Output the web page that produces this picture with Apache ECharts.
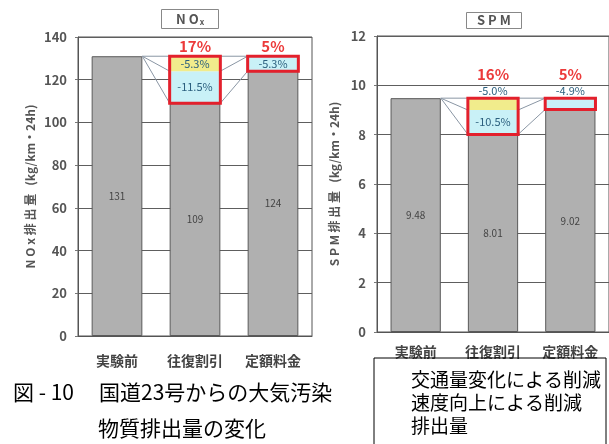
<!DOCTYPE html>
<html>
<head>
<meta charset="utf-8">
<script src="https://cdn.jsdelivr.net/npm/echarts@6/dist/echarts.min.js"></script>
<style>
html, body { margin: 0; padding: 0; background: #fff; }
#chart { width: 609px; height: 444px; }
</style>
</head>
<body>
<div id="chart"></div>
<script>
var categories = ['実験前', '往復割引', '定額料金'];

// NOx 排出量 (kg/km・24h)
var noxBase = [131, 109, 124];
var noxTraffic = [0, 15, 7];
var noxSpeed = [0, 7, 0];
var noxTrafficPct = ['', '-11.5%', '-5.3%'];
var noxSpeedPct = ['', '-5.3%', ''];
var noxTotalPct = ['', '17%', '5%'];
var noxAxis = [0, 140, 20];

// SPM 排出量 (kg/km・24h)
var spmBase = [9.48, 8.01, 9.02];
var spmTraffic = [0, 0.99, 0.46];
var spmSpeed = [0, 0.48, 0];
var spmTrafficPct = ['', '-10.5%', '-4.9%'];
var spmSpeedPct = ['', '-5.0%', ''];
var spmTotalPct = ['', '16%', '5%'];
var spmAxis = [0, 12, 2];

// where the small % labels sit
var noxTrafficPos = ['inside', 'inside', 'inside'];
var noxSpeedPos = ['inside', 'inside', 'inside'];
var spmTrafficPos = ['inside', 'inside', 'top'];
var spmSpeedPos = ['inside', 'top', 'inside'];

var FONT = 'Noto Sans CJK JP';
var BAR_W = 0.65;

var chart = echarts.init(document.getElementById('chart'));

function pctData(values, labels, pos) {
  return values.map(function (v, i) {
    return {
      value: v,
      label: { show: labels[i] !== '', position: pos[i], formatter: labels[i], distance: 2 }
    };
  });
}

function levels(base, traffic, speed) {
  return base.map(function (b, i) {
    return [b, b + traffic[i], b + traffic[i] + speed[i]];
  });
}

// red frame round the reduction + red total %
function boxRender(totalPct, gap) {
  return function (params, api) {
    var i = api.value(0);
    if (api.value(1) === api.value(2)) return null;
    var lo = api.coord([i, api.value(1)]);
    var hi = api.coord([i, api.value(2)]);
    var w = api.size([1, 0])[0] * BAR_W;
    return {
      type: 'group',
      children: [{
        type: 'rect',
        shape: { x: lo[0] - w / 2, y: hi[1], width: w, height: lo[1] - hi[1] },
        style: { fill: 'none', stroke: '#e3202c', lineWidth: 3 }
      }, {
        type: 'text',
        style: {
          x: lo[0], y: hi[1] - gap, text: totalPct[params.dataIndex],
          fill: '#ec3a3a', font: 'bold 15px "' + FONT + '"',
          align: 'center', verticalAlign: 'bottom'
        }
      }]
    };
  };
}

// connector lines between neighbouring stacks
function linkRender(params, api) {
  var i = api.value(0);
  var w = api.size([1, 0])[0] * BAR_W;
  var kids = [];
  for (var k = 0; k < 3; k++) {
    var a = api.coord([i, api.value(1 + k)]);
    var b = api.coord([i + 1, api.value(4 + k)]);
    kids.push({
      type: 'line',
      shape: { x1: a[0] + w / 2, y1: a[1], x2: b[0] - w / 2, y2: b[1] },
      style: { stroke: '#8a96a4', lineWidth: 1 }
    });
  }
  return { type: 'group', children: kids };
}

function boxData(base, traffic, speed) {
  return base.map(function (b, i) { return [i, b, b + traffic[i] + speed[i]]; });
}

function linkData(lv) {
  var out = [];
  for (var i = 0; i < lv.length - 1; i++) out.push([i].concat(lv[i], lv[i + 1]));
  return out;
}

function xAxisFor(idx, margin) {
  return {
    type: 'category', gridIndex: idx, data: categories,
    axisLine: { lineStyle: { color: '#555' } },
    axisTick: { inside: true, length: 5, lineStyle: { color: '#aaa' } },
    axisLabel: { color: '#444', fontSize: 14, fontWeight: 'bold', margin: margin, fontFamily: FONT }
  };
}

function yAxisFor(idx, ax, name, gap) {
  return {
    type: 'value', gridIndex: idx, min: ax[0], max: ax[1], interval: ax[2],
    name: name, nameLocation: 'middle', nameRotate: 90, nameGap: gap,
    nameTextStyle: { color: '#555', fontSize: 12, fontWeight: 'bold', fontFamily: FONT },
    axisLine: { show: true, lineStyle: { color: '#555' } },
    axisTick: { show: true, length: 3, lineStyle: { color: '#777' } },
    axisLabel: { color: '#555', fontSize: 13, fontWeight: 'bold', margin: 11, fontFamily: FONT },
    splitLine: { lineStyle: { color: '#5e5e5e', width: 1 } }
  };
}

function seriesFor(idx, stack, base, traffic, speed, trafficPct, speedPct, trafficPos, speedPos, totalPct, gap) {
  var pctLabel = { color: '#2b5f7e', fontSize: 11, fontFamily: FONT };
  return [{
    name: '排出量', type: 'bar', stack: stack, xAxisIndex: idx, yAxisIndex: idx,
    barWidth: (BAR_W * 100) + '%', data: base,
    itemStyle: { color: '#b0b0b0', borderColor: '#5a5a5a', borderWidth: 1 },
    label: { show: true, position: 'inside', color: '#444', fontSize: 10, fontFamily: FONT }
  }, {
    name: '交通量変化による削減', type: 'bar', stack: stack, xAxisIndex: idx, yAxisIndex: idx,
    data: pctData(traffic, trafficPct, trafficPos),
    itemStyle: { color: '#c9f1f7' }, label: pctLabel
  }, {
    name: '速度向上による削減', type: 'bar', stack: stack, xAxisIndex: idx, yAxisIndex: idx,
    data: pctData(speed, speedPct, speedPos),
    itemStyle: { color: '#f1ec8c' }, label: pctLabel
  }, {
    type: 'custom', xAxisIndex: idx, yAxisIndex: idx, z: 5,
    renderItem: linkRender, data: linkData(levels(base, traffic, speed))
  }, {
    type: 'custom', xAxisIndex: idx, yAxisIndex: idx, z: 6,
    renderItem: boxRender(totalPct, gap), data: boxData(base, traffic, speed)
  }];
}

var captionStyle = { fontSize: 21, fontWeight: 'normal', color: '#000', fontFamily: FONT };

var option = {
  animation: false,
  textStyle: { fontFamily: FONT },
  title: [{
    text: '{a|N O}{b|x}', left: 161, top: 9,
    borderColor: '#888', borderWidth: 1, padding: [3, 15, 3, 15],
    textStyle: { rich: {
      a: { fontSize: 13, fontWeight: 'bold', color: '#555', fontFamily: FONT },
      b: { fontSize: 8, fontWeight: 'bold', color: '#555', fontFamily: FONT, padding: [6, 0, 0, 1] }
    } }
  }, {
    text: 'S P M', left: 466, top: 12,
    borderColor: '#888', borderWidth: 1, padding: [2, 11, 2, 11],
    textStyle: { fontSize: 13, fontWeight: 'bold', color: '#555', fontFamily: FONT }
  }, {
    text: '図 - 10', left: 8, top: 377, textStyle: captionStyle
  }, {
    text: '国道23号からの大気汚染', left: 94, top: 377, textStyle: captionStyle
  }, {
    text: '物質排出量の変化', left: 93, top: 413, textStyle: captionStyle
  }],
  legend: {
    data: ['交通量変化による削減', '速度向上による削減', '排出量'],
    orient: 'vertical', left: 374, top: 358, height: 140,
    icon: 'none', itemWidth: 0, itemHeight: 19, itemGap: 4,
    padding: [12, 5, 20, 32], borderColor: '#000', borderWidth: 1,
    selectedMode: false,
    textStyle: { fontSize: 19, color: '#000', fontFamily: FONT }
  },
  grid: [
    { left: 78, top: 37, width: 234, bottom: 108, show: true, borderColor: '#555', borderWidth: 1 },
    { left: 377, top: 36, width: 237, bottom: 112, show: true, borderColor: '#555', borderWidth: 1 }
  ],
  xAxis: [xAxisFor(0, 18), xAxisFor(1, 13)],
  yAxis: [
    yAxisFor(0, noxAxis, 'N O x 排 出 量   (kg/km・24h)', 42),
    yAxisFor(1, spmAxis, 'S P M 排 出 量   (kg/km・24h)', 37)
  ],
  series: [].concat(
    seriesFor(0, 'nox', noxBase, noxTraffic, noxSpeed, noxTrafficPct, noxSpeedPct, noxTrafficPos, noxSpeedPos, noxTotalPct, 2),
    seriesFor(1, 'spm', spmBase, spmTraffic, spmSpeed, spmTrafficPct, spmSpeedPct, spmTrafficPos, spmSpeedPos, spmTotalPct, 16)
  )
};

chart.setOption(option);
</script>
</body>
</html>
